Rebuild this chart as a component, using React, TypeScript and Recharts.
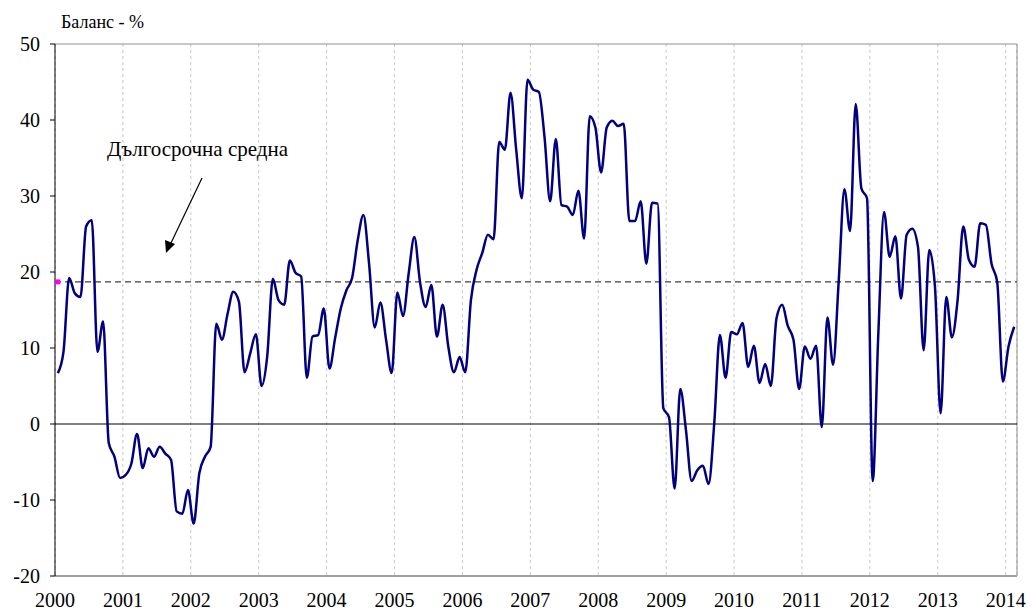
import React from 'react';
import { LineChart, Line, XAxis, YAxis, CartesianGrid, ReferenceLine, ReferenceDot } from 'recharts';

// Monthly balance values (%)
const y2000 = [6.7, 9.5, 19.2, 17.2, 16.7, 26.0, 26.8, 9.5, 13.5, -2.5, -4.3, -7.1];
const y2001 = [-6.7, -5.2, -1.3, -5.8, -3.2, -4.3, -3.0, -3.9, -4.7, -11.5, -11.8, -8.7];
const y2002 = [-13.1, -6.5, -4.3, -3.0, 13.2, 11.1, 14.5, 17.4, 16.1, 6.8, 9.3, 11.8];
const y2003 = [5.0, 8.9, 19.1, 16.3, 15.7, 21.5, 19.9, 19.4, 6.1, 11.5, 11.7, 15.2];
const y2004 = [7.3, 11.3, 15.2, 17.6, 19.2, 24.2, 27.5, 21.1, 12.7, 16.0, 11.1, 6.7];
const y2005 = [17.3, 14.2, 19.8, 24.6, 18.7, 15.4, 18.3, 11.5, 15.7, 10.2, 6.8, 8.8];
const y2006 = [6.8, 16.3, 20.3, 22.5, 24.9, 24.3, 37.1, 36.1, 43.6, 36.1, 29.7, 45.3];
const y2007 = [44.0, 43.7, 37.8, 29.3, 37.5, 28.8, 28.6, 27.5, 30.7, 24.4, 40.5, 39.0];
const y2008 = [33.1, 39.0, 39.9, 39.2, 39.5, 26.7, 26.7, 29.3, 21.1, 29.1, 29.0, 2.1];
const y2009 = [0.9, -8.5, 4.6, -0.8, -7.5, -6.1, -5.5, -7.9, 0.1, 11.7, 6.1, 12.1];
const y2010 = [11.8, 13.3, 7.5, 10.3, 5.4, 7.9, 5.0, 13.9, 15.7, 12.9, 11.1, 4.6];
const y2011 = [10.2, 8.6, 10.3, -0.4, 14.0, 7.8, 18.9, 30.9, 25.4, 42.1, 31.0, 29.7];
const y2012 = [-7.5, 12.0, 27.9, 22.0, 24.7, 16.5, 24.9, 25.7, 23.3, 9.7, 22.9, 18.1];
const y2013 = [1.4, 16.7, 11.4, 16.3, 26.0, 21.6, 20.7, 26.4, 26.2, 21.1, 18.7, 5.6];
const y2014 = [10.2, 12.8];

const years = [2000, 2001, 2002, 2003, 2004, 2005, 2006, 2007, 2008, 2009, 2010, 2011, 2012, 2013, 2014];
const yTicks = [-20, -10, 0, 10, 20, 30, 40, 50];
const longTermAverage = 18.7;

const balance = [
  ...y2000, ...y2001, ...y2002, ...y2003, ...y2004, ...y2005, ...y2006,
  ...y2007, ...y2008, ...y2009, ...y2010, ...y2011, ...y2012, ...y2013, ...y2014,
];

// each month sits in the middle of its slot
const data = balance.map((v, i) => ({ x: i + 0.5, v }));
const xTicks = years.map((_, k) => k * 12);

const FONT = "'Liberation Serif', 'Times New Roman', serif";

const XTick = ({ x, y, payload }: any) => (
  <text x={x} y={y + 25} textAnchor="middle" fontSize={20} style={{ fontFamily: FONT }} fill="#000">
    {years[payload.value / 12]}
  </text>
);

const YTick = ({ x, y, payload }: any) => (
  <text x={x - 4} y={y + 7} textAnchor="end" fontSize={20} style={{ fontFamily: FONT }} fill="#000">
    {payload.value}
  </text>
);

export default function App() {
  return (
    <div style={{ position: 'absolute', left: 0, top: 0, width: 1032, height: 614, background: '#fff', fontFamily: FONT }}>
      <LineChart
        width={1032}
        height={614}
        data={data}
        margin={{ top: 44, right: 15, bottom: 0, left: 0 }}
      >
        <CartesianGrid horizontal={false} stroke="#c8c8c8" strokeDasharray="3 3" />
        <XAxis
          dataKey="x"
          type="number"
          domain={[0, data.length]}
          ticks={xTicks}
          tickLine={false}
          axisLine={{ stroke: '#a0a0a0', strokeWidth: 2 }}
          tick={<XTick />}
          tickMargin={0}
          height={38}
          interval={0}
        />
        <YAxis
          type="number"
          domain={[-20, 50]}
          ticks={yTicks}
          width={55}
          tickSize={5}
          tickMargin={6}
          axisLine={{ stroke: '#000' }}
          tickLine={{ stroke: '#000' }}
          tick={<YTick />}
          interval={0}
        />
        <ReferenceLine y={50} stroke="#909090" />
        <ReferenceLine x={data.length} stroke="#909090" />
        <ReferenceLine y={0} stroke="#000" strokeWidth={1.2} />
        <ReferenceLine y={longTermAverage} stroke="#404040" strokeDasharray="6 4" strokeWidth={1.3} />
        <ReferenceDot
          x={0.5}
          y={longTermAverage}
          r={2}
          shape={(p: any) => <rect x={p.cx - 2.5} y={p.cy - 2.5} width={5} height={5} fill="#ff00ff" />}
        />
        <Line
          type="monotone"
          dataKey="v"
          stroke="#000080"
          strokeWidth={2.5}
          dot={false}
          isAnimationActive={false}
        />
      </LineChart>

      {/* annotations */}
      <svg width={1032} height={614} style={{ position: 'absolute', left: 0, top: 0, pointerEvents: 'none' }}>
        <text x={61} y={28} fontSize={18} style={{ fontFamily: FONT }} fill="#000">Баланс - %</text>
        <text x={107} y={156} fontSize={21} style={{ fontFamily: FONT }} fill="#000">Дългосрочна средна</text>
        <line x1={202} y1={178} x2={171} y2={243} stroke="#000" strokeWidth={1.2} />
        <polygon points="166,253 165,240 175,244" fill="#000" />
      </svg>
    </div>
  );
}
